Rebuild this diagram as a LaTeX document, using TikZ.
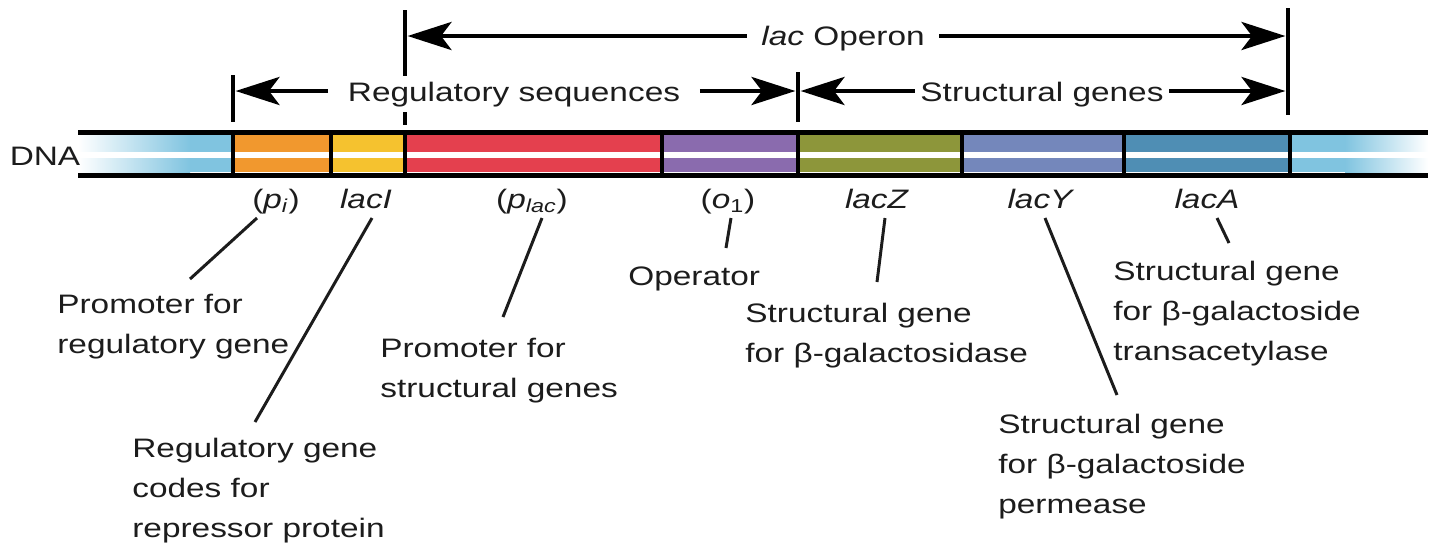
\documentclass[tikz,border=0pt]{standalone}
\usepackage{fontspec}
\setmainfont{Liberation Sans}[FakeStretch=1.25]
\usepackage{tikz}
\usetikzlibrary{arrows.meta,calc}

\definecolor{ink}{RGB}{28,28,28}
\definecolor{dnablue}{RGB}{128,196,224}
\definecolor{pOrange}{RGB}{241,152,46}
\definecolor{iYellow}{RGB}{245,194,47}
\definecolor{lacRed}{RGB}{228,64,78}
\definecolor{opPurple}{RGB}{138,107,174}
\definecolor{zOlive}{RGB}{141,150,58}
\definecolor{yBlue}{RGB}{116,135,187}
\definecolor{aBlue}{RGB}{79,142,180}

\begin{document}
\begin{tikzpicture}[x=0.02cm, y=-0.02cm,
    lbl/.style={font=\fontsize{15.2}{22.8}\selectfont, text=ink},
    gene/.style={lbl, anchor=base, text height=11pt, text depth=3.5pt, inner sep=2pt},
    desc/.style={lbl, anchor=north west, align=left, inner sep=0pt},
    leader/.style={draw=ink, line width=1.7pt},
    dim/.style={line width=2.2pt, shorten >=1.5pt, -{Stealth[length=25pt, width=16pt, inset=6pt]}},
    bar/.style={line width=2pt},
    seg/.style={line width=2.2pt}]
    \useasboundingbox (0,0) rectangle (1440,555);

    % DNA strand
    \shade[left color=white, right color=dnablue] (78,135) rectangle (190,172);
    \fill[dnablue] (190,135) rectangle (233,172);
    \fill[pOrange] (233,135) rectangle (331,172);
    \fill[iYellow] (331,135) rectangle (405,172);
    \fill[lacRed] (405,135) rectangle (662,172);
    \fill[opPurple] (662,135) rectangle (798,172);
    \fill[zOlive] (798,135) rectangle (962,172);
    \fill[yBlue] (962,135) rectangle (1124,172);
    \fill[aBlue] (1124,135) rectangle (1290,172);
    \fill[dnablue] (1290,135) rectangle (1345,172);
    \shade[left color=dnablue, right color=white] (1345,135) rectangle (1428,172);
    \draw[white, line width=3.4pt] (78,155) -- (1428,155);
    \draw[seg] (233,134) -- (233,174);
    \draw[seg] (331,134) -- (331,174);
    \draw[seg] (405,134) -- (405,174);
    \draw[seg] (662,134) -- (662,174);
    \draw[seg] (798,134) -- (798,174);
    \draw[seg] (962,134) -- (962,174);
    \draw[seg] (1124,134) -- (1124,174);
    \draw[seg] (1290,134) -- (1290,174);
    \draw[line width=2.8pt] (78,132.5) -- (1428,132.5);
    \draw[line width=2.8pt] (78,175.5) -- (1428,175.5);
    \node[lbl, anchor=base] (dna) at (45,165) {DNA};

    % extent bars
    \draw[bar] (233,75) -- (233,122);
    \draw[bar] (405,10) -- (405,125);
    \draw[bar] (798,72) -- (798,122);
    \draw[bar] (1288,8) -- (1288,115);
    \coordinate (bL) at (233,91);
    \coordinate (bO) at (405,36);
    \coordinate (bM) at (798,91);
    \coordinate (bR) at (1288,36);

    \node[lbl, anchor=base, inner xsep=8pt] (operon) at (843,45) {\textit{lac} Operon};
    \node[lbl, anchor=base, fill=white, inner xsep=11pt] (regseq) at (514,101) {Regulatory sequences};
    \node[lbl, anchor=base, inner xsep=3pt] (strgenes) at (1042,101) {Structural genes};

    \draw[dim] (operon.west |- bO) -- (bO);
    \draw[dim] (operon.east |- bO) -- (bR);
    \draw[dim] (regseq.west |- bL) -- (bL);
    \draw[dim] (regseq.east |- bL) -- (bM);
    \draw[dim] (strgenes.west |- bM) -- (bM);
    \draw[dim] (strgenes.east |- bM) -- (bR |- bM);

    % gene labels
    \node[gene] (pi) at (276,208) {(\textit{p}\textsubscript{\textit{i}})};
    \node[gene] (lacI) at (366,208) {\textit{lacI}};
    \node[gene] (plac) at (532,208) {(\textit{p}\textsubscript{\textit{lac}})};
    \node[gene] (o1) at (728,208) {(\textit{o}\textsubscript{1})};
    \node[gene] (lacZ) at (877,208) {\textit{lacZ}};
    \node[gene] (lacY) at (1041,208) {\textit{lacY}};
    \node[gene] (lacA) at (1207,208) {\textit{lacA}};

    % descriptions
    \node[desc] (pi-d) at (57,293.5) {Promoter for\\regulatory gene};
    \node[desc] (lacI-d) at (132,437.5) {Regulatory gene\\codes for\\repressor protein};
    \node[desc] (plac-d) at (380,337.5) {Promoter for\\structural genes};
    \node[desc] (o1-d) at (628,266.5) {Operator};
    \node[desc] (lacZ-d) at (745,302.5) {Structural gene\\for β-galactosidase};
    \node[desc] (lacY-d) at (998,413.5) {Structural gene\\for β-galactoside\\permease};
    \node[desc] (lacA-d) at (1113,260.5) {Structural gene\\for β-galactoside\\transacetylase};

    \coordinate (pi-e) at (190,279);
    \coordinate (lacI-e) at (255,422);
    \coordinate (plac-e) at (503,317);
    \coordinate (o1-e) at (726,248);
    \coordinate (lacZ-e) at (877,282);
    \coordinate (lacY-e) at (1117,395);
    \coordinate (lacA-e) at (1229,243);

    \draw[leader] ($(pi.south)+(-19,0)$) -- (pi-e);
    \draw[leader] ($(lacI.south)+(6,0)$) -- (lacI-e);
    \draw[leader] ($(plac.south)+(10,0)$) -- (plac-e);
    \draw[leader] ($(o1.south)+(3,0)$) -- (o1-e);
    \draw[leader] ($(lacZ.south)+(8,0)$) -- (lacZ-e);
    \draw[leader] ($(lacY.south)+(4,0)$) -- (lacY-e);
    \draw[leader] ($(lacA.south)+(10,0)$) -- (lacA-e);
\end{tikzpicture}
\end{document}
